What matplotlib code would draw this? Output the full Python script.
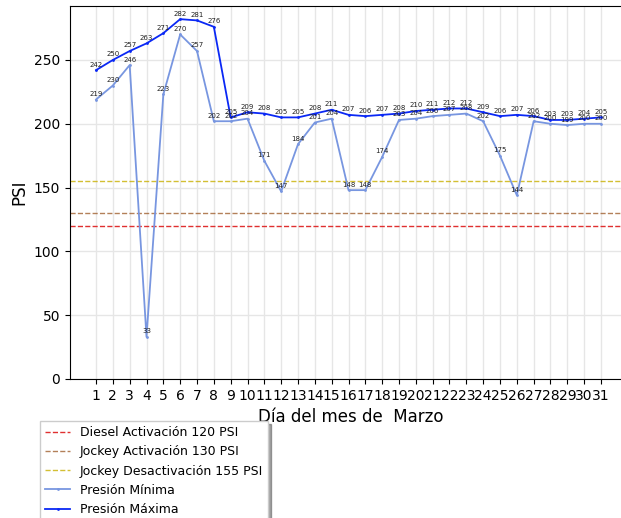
import matplotlib
matplotlib.use("Agg")
import matplotlib.pyplot as plt

dias = list(range(1, 32))
presion_max = [242, 250, 257, 263, 271, 282, 281, 276, 205, 209, 208, 205, 205, 208, 211,
               207, 206, 207, 208, 210, 211, 212, 212, 209, 206, 207, 206, 203, 203, 204, 205]
presion_min = [219, 230, 246, 33, 223, 270, 257, 202, 202, 204, 171, 147, 184, 201, 204,
               148, 148, 174, 203, 204, 206, 207, 208, 202, 175, 144, 202, 200, 199, 200, 200]
diesel_act = 120
jockey_act = 130
jockey_des = 155
mes = "Marzo"

W, H = 621, 518
fig = plt.figure(figsize=(W / 100, H / 100), dpi=100)
left, right, top, bottom = 70, 632, 6, 379
ax = fig.add_axes([left / W, 1 - bottom / H, (right - left) / W, (bottom - top) / H])

ax.axhline(diesel_act, color="#e03030", ls="--", lw=1, label="Diesel Activación 120 PSI")
ax.axhline(jockey_act, color="#a06030", ls="--", lw=1, alpha=0.8, label="Jockey Activación 130 PSI")
ax.axhline(jockey_des, color="#c8b000", ls="--", lw=1, alpha=0.8, label="Jockey Desactivación 155 PSI")
ax.plot(dias, presion_min, color="#7896e0", lw=1.3, marker=".", markersize=2, label="Presión Mínima")
ax.plot(dias, presion_max, color="#0a28f5", lw=1.3, marker=".", markersize=2, label="Presión Máxima")

for d, v in zip(dias, presion_min):
    ax.text(d, v + 2, str(v), fontsize=5, ha="center", va="bottom", color="#222222")
for d, v in zip(dias, presion_max):
    ax.text(d, v + 2, str(v), fontsize=5, ha="center", va="bottom", color="#222222")

ax.set_xlim(-0.545, 31 + (right - 601) / 16.83)
ax.set_ylim(0, 292.3)
ax.set_xticks(dias)
ax.set_xticklabels([str(d) for d in dias], fontsize=10)
ax.tick_params(axis="y", labelsize=10)
ax.grid(True, color="#e6e6e6", lw=1)
ax.set_axisbelow(True)
ax.set_xlabel("Día del mes de  " + mes, fontsize=12)
ax.set_ylabel("PSI", fontsize=12)

leg = fig.legend(loc="upper left", bbox_to_anchor=(40 / W, 1 - 421 / H), fontsize=9,
                 shadow=True, fancybox=False, framealpha=1, borderaxespad=0)

fig.savefig("out.png", dpi=100)
